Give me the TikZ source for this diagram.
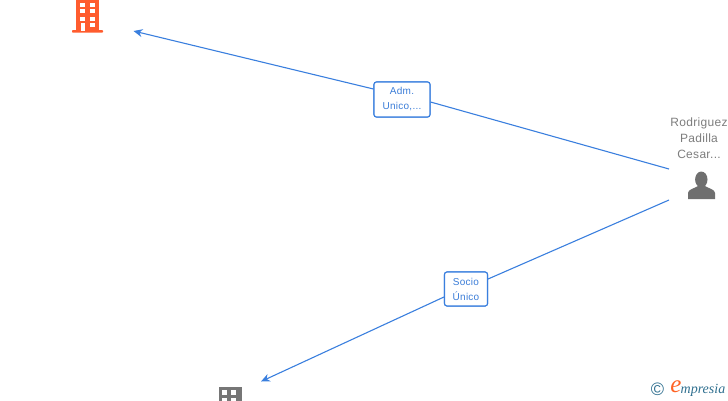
\documentclass[tikz,border=0pt]{standalone}
\usepackage{fontspec}
\setmainfont{Liberation Sans}[LetterSpace=2.5]
\newfontfamily\logofont{Liberation Serif}
\definecolor{edgeblue}{HTML}{3A7FDE}
\definecolor{labelblue}{HTML}{3B7DD8}
\definecolor{orangeb}{HTML}{FF5C2E}
\definecolor{greyb}{HTML}{6F6F6F}
\definecolor{teal1}{HTML}{2F6F8F}
\usetikzlibrary{arrows.meta}
\tikzset{
  link/.style={draw=edgeblue,line width=1.1pt},
  linkarrow/.style={link,-{Stealth[length=9pt,width=8pt]}},
  tag/.style={draw=edgeblue,fill=white,rounded corners=2.5pt,line width=1.1pt,text=labelblue,font=\fontsize{10}{15}\selectfont,align=center,inner sep=0pt,anchor=center},
  namelabel/.style={text=greyb!90,font=\fontsize{12}{16}\selectfont,align=center,inner sep=0pt},
  hole/.style={fill=white,draw=none}
}
\begin{document}
\begin{tikzpicture}[x=1pt,y=-1pt]
\useasboundingbox (0,0) rectangle (728,400);
\clip (0,0) rectangle (728,400);
% free ends
\coordinate (src1) at (669,169);
\coordinate (src2) at (669,200);
\coordinate (dst1) at (133.5,31);
\coordinate (dst2) at (261,381.5);
% labels
\node[tag,minimum width=56pt,minimum height=35pt] (adm) at (402,99.5) {Adm.\\Unico,...};
\node[tag,minimum width=43pt,minimum height=34pt] (socio) at (466,289) {Socio\\Único};
% connectors
\draw[link] (src1) -- (adm.east |- 0,102);
\draw[linkarrow] (adm.west |- 0,89) -- (dst1);
\draw[link] (src2) -- (socio.east |- 0,279);
\draw[linkarrow] (socio.west |- 0,297) -- (dst2);
\node[tag,minimum width=56pt,minimum height=35pt] at (adm) {Adm.\\Unico,...};
\node[tag,minimum width=43pt,minimum height=34pt] at (socio) {Socio\\Único};
% person label
\node[namelabel] (person) at (699,138) {Rodriguez\\Padilla\\Cesar...};
% person icon
\fill[greyb] (701.3,179.5) ellipse (6.2 and 8);
\fill[greyb] (688,199) -- (688,193) .. controls (688,189.5) and (694,188.5) .. (698,186)
  -- (705,186) .. controls (709,188.5) and (715,189.5) .. (715,193) -- (715,199) -- cycle;
% orange building
\fill[orangeb] (76,-2) rectangle (99,31);
\fill[orangeb,rounded corners=0.8pt] (72,30) rectangle (103,32.6);
\foreach \y in {2.7,9.3,16.7}{
  \fill[hole] (80,\y) rectangle (85,\y+4);
  \fill[hole] (90,\y) rectangle (95,\y+4);
}
\fill[hole] (90,22.7) rectangle (95,26.7);
\fill[hole] (80.7,22.7) rectangle (85,30.7);
% grey building
\fill[greyb!95] (219,387) rectangle (241.5,402);
\foreach \y in {390,397.5}{
  \fill[hole] (222,\y) rectangle (227,\y+5);
  \fill[hole] (231,\y) rectangle (236,\y+5);
}
% logo
\node[inner sep=0pt,text=teal1,font=\fontsize{18}{18}\selectfont] (copyr) at (657.5,389) {©};
\node[inner sep=0pt,text=orangeb!80!orange,font=\logofont\itshape\fontsize{25}{25}\selectfont] (ee) at (676,386.5) {e};
\node[inner sep=0pt,anchor=base west,text=teal1,font=\logofont\itshape\fontsize{14}{14}\selectfont] (brand) at (680.5,393) {mpresia};
\end{tikzpicture}
\end{document}
